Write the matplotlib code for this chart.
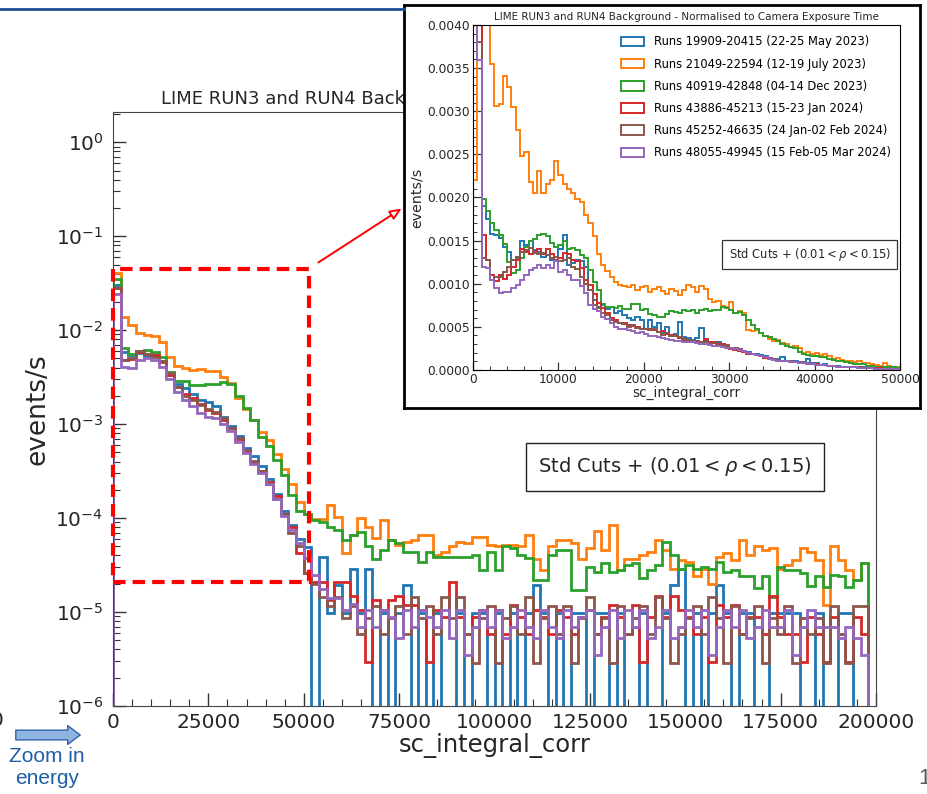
import numpy as np
import matplotlib
matplotlib.use("Agg")
import matplotlib.pyplot as plt
import matplotlib.ticker as ticker
from matplotlib.lines import Line2D
from matplotlib.patches import FancyArrowPatch, Rectangle

W, H = 928, 794

run_labels = [
    "Runs 19909-20415 (22-25 May 2023)",
    "Runs 21049-22594 (12-19 July 2023)",
    "Runs 40919-42848 (04-14 Dec 2023)",
    "Runs 43886-45213 (15-23 Jan 2024)",
    "Runs 45252-46635 (24 Jan-02 Feb 2024)",
    "Runs 48055-49945 (15 Feb-05 Mar 2024)",
]
run_colors = ["#1f77b4", "#ff7f0e", "#2ca02c", "#d62728", "#8c564b", "#9467bd"]

# full range: 2000-wide bins from 0 to 198000 (events/s)
main_edges = np.arange(0, 198001, 2000)

main_blue = [
    0.030, 0.0058, 0.0054, 0.0057, 0.0053, 0.0054, 0.0047, 0.0033, 0.0027, 0.0024,
    0.0021, 0.0018, 0.0017, 0.00155, 0.0012, 0.00095, 0.00075, 0.00056, 0.00046, 0.00036,
    0.00026, 0.00018, 0.00012, 8.5e-5, 6e-5,
    4.9e-5, 0, 3.9e-5, 9.7e-6, 1.95e-5, 9.7e-6, 2.9e-5, 9.7e-6, 2.9e-5, 0,
    9.7e-6, 0, 9.7e-6, 1.95e-5, 0, 9.7e-6, 0, 9.7e-6, 0, 0,
    9.7e-6, 0, 9.7e-6, 9.7e-6, 0, 9.7e-6, 0, 9.7e-6, 0, 9.7e-6,
    1.95e-5, 9.7e-6, 0, 9.7e-6, 0, 9.7e-6, 9.7e-6, 0, 9.7e-6, 9.7e-6,
    0, 9.7e-6, 0, 0, 9.7e-6, 0, 0, 9.7e-6, 1.95e-5, 2.9e-5,
    0, 9.7e-6, 0, 9.7e-6, 1.95e-5, 9.7e-6, 0, 9.7e-6, 9.7e-6, 0,
    0, 9.7e-6, 9.7e-6, 9.7e-6, 9.7e-6, 0, 0, 9.7e-6, 0, 0,
    9.7e-6, 9.7e-6, 0, 0,
]
main_orange = [
    0.041, 0.0137, 0.0113, 0.0094, 0.0088, 0.0086, 0.0075, 0.0052, 0.0042, 0.0040,
    0.0038, 0.0039, 0.0037, 0.0037, 0.0032, 0.00275, 0.0019, 0.00145, 0.00112, 0.00082,
    0.00067, 0.00048, 0.00033, 0.00023, 0.00015,
    1.1e-4, 9.7e-5, 9.7e-5, 1.37e-4, 1.03e-4, 4.2e-5, 6.6e-5, 1.0e-4, 8.1e-5, 6.1e-5,
    9.5e-5, 5.8e-5, 5.2e-5, 5.6e-5, 5.8e-5, 6.6e-5, 6.6e-5, 4.0e-5, 4.4e-5, 5.0e-5,
    5.6e-5, 5.4e-5, 6.3e-5, 6.3e-5, 5.2e-5, 5.0e-5, 5.2e-5, 5.2e-5, 5.0e-5, 6.6e-5,
    3.7e-5, 2.8e-5, 5.0e-5, 5.8e-5, 5.8e-5, 5.4e-5, 3.7e-5, 4.8e-5, 7.2e-5, 4.6e-5,
    8.4e-5, 2.8e-5, 3.7e-5, 3.7e-5, 4.0e-5, 4.4e-5, 5.8e-5, 4.6e-5, 2.9e-5, 3.6e-5,
    3.4e-5, 2.4e-5, 2.9e-5, 2.0e-5, 3.9e-5, 4.2e-5, 3.6e-5, 5.8e-5, 4.0e-5, 5.0e-5,
    4.6e-5, 4.8e-5, 2.9e-5, 3.2e-5, 3.6e-5, 4.8e-5, 4.4e-5, 3.6e-5, 1.2e-5, 5.0e-5,
    3.6e-5, 2.8e-5, 2.2e-5, 3.3e-5,
]
main_green = [
    0.035, 0.0064, 0.0056, 0.0060, 0.0062, 0.0058, 0.0052, 0.0036, 0.0029, 0.0029,
    0.0026, 0.0026, 0.0027, 0.0027, 0.0028, 0.0027, 0.0020, 0.0015, 0.0011, 0.00073,
    0.00059, 0.00042, 0.00029, 0.000175, 0.00012,
    1.1e-4, 9.5e-5, 9.0e-5, 8.1e-5, 7.4e-5, 5.8e-5, 6.6e-5, 7.1e-5, 5.0e-5, 3.7e-5,
    4.6e-5, 5.8e-5, 5.4e-5, 4.4e-5, 4.4e-5, 3.4e-5, 4.4e-5, 3.9e-5, 3.9e-5, 3.9e-5,
    3.9e-5, 3.9e-5, 4.0e-5, 2.8e-5, 4.4e-5, 2.8e-5, 5.0e-5, 4.8e-5, 4.0e-5, 3.8e-5,
    2.2e-5, 2.2e-5, 4.0e-5, 4.6e-5, 4.6e-5, 1.7e-5, 1.7e-5, 3.0e-5, 2.7e-5, 3.3e-5,
    2.7e-5, 2.8e-5, 3.2e-5, 3.3e-5, 2.3e-5, 2.8e-5, 3.2e-5, 5.6e-5, 4.0e-5, 2.9e-5,
    3.2e-5, 2.9e-5, 3.0e-5, 2.9e-5, 3.4e-5, 2.7e-5, 2.8e-5, 2.4e-5, 2.4e-5, 1.8e-5,
    2.4e-5, 1.45e-5, 3.0e-5, 2.8e-5, 2.8e-5, 2.6e-5, 1.9e-5, 2.4e-5, 1.85e-5, 2.5e-5,
    2.4e-5, 1.85e-5, 2.2e-5, 3.3e-5,
]
main_red = [
    0.028, 0.0048, 0.0049, 0.0058, 0.0056, 0.0054, 0.0046, 0.0033, 0.0025, 0.0021,
    0.0019, 0.00165, 0.0014, 0.0013, 0.0011, 0.0009, 0.0007, 0.0005, 0.0004, 0.00032,
    0.00024, 0.00017, 0.00011, 8e-5, 4.2e-5,
    2.6e-5, 2.07e-5, 2.07e-5, 1.33e-5, 2.07e-5, 2.07e-5, 1.48e-5, 1.04e-5, 2.96e-6, 1.33e-5,
    1.04e-5, 1.33e-5, 1.48e-5, 1.18e-5, 1.18e-5, 1.04e-5, 2.96e-6, 1.04e-5, 8.9e-6, 2.07e-5,
    8.9e-6, 5.9e-6, 8.9e-6, 1.04e-5, 5.9e-6, 1.04e-5, 5.9e-6, 1.18e-5, 8.9e-6, 5.9e-6,
    1.04e-5, 8.9e-6, 5.9e-6, 1.04e-5, 8.9e-6, 5.9e-6, 8.9e-6, 1.04e-5, 5.9e-6, 8.9e-6,
    1.18e-5, 8.9e-6, 5.9e-6, 1.18e-5, 2.96e-6, 8.9e-6, 1.48e-5, 8.9e-6, 1.48e-5, 1.04e-5,
    8.9e-6, 5.9e-6, 8.9e-6, 2.96e-6, 1.18e-5, 8.9e-6, 1.18e-5, 5.9e-6, 8.9e-6, 8.9e-6,
    5.9e-6, 1.48e-5, 8.9e-6, 5.9e-6, 5.9e-6, 2.96e-6, 8.9e-6, 5.9e-6, 2.96e-6, 8.9e-6,
    5.9e-6, 2.96e-6, 8.9e-6, 5.9e-6,
]
main_brown = [
    0.028, 0.0048, 0.0051, 0.0060, 0.0056, 0.0052, 0.0047, 0.0035, 0.0025, 0.0020,
    0.0018, 0.0016, 0.00145, 0.00135, 0.00115, 0.0009, 0.00072, 0.00053, 0.00041, 0.00032,
    0.00023, 0.00016, 0.00011, 7e-5, 5e-5,
    2.6e-5, 2.0e-5, 1.45e-5, 1.16e-5, 1.45e-5, 8.7e-6, 1.16e-5, 5.8e-6, 8.7e-6, 1.16e-5,
    5.8e-6, 8.7e-6, 1.16e-5, 5.8e-6, 1.45e-5, 8.7e-6, 1.16e-5, 5.8e-6, 1.45e-5, 8.7e-6,
    1.45e-5, 5.8e-6, 2.9e-6, 8.7e-6, 1.16e-5, 2.9e-6, 8.7e-6, 1.16e-5, 5.8e-6, 1.45e-5,
    2.9e-6, 8.7e-6, 1.16e-5, 5.8e-6, 1.16e-5, 2.9e-6, 8.7e-6, 1.45e-5, 5.8e-6, 8.7e-6,
    2.9e-6, 1.16e-5, 5.8e-6, 8.7e-6, 1.16e-5, 5.8e-6, 1.45e-5, 8.7e-6, 2.9e-6, 5.8e-6,
    8.7e-6, 1.16e-5, 5.8e-6, 1.45e-5, 8.7e-6, 2.9e-6, 1.16e-5, 5.8e-6, 8.7e-6, 1.16e-5,
    2.9e-6, 8.7e-6, 5.8e-6, 1.16e-5, 2.9e-6, 8.7e-6, 5.8e-6, 8.7e-6, 2.9e-6, 1.16e-5,
    5.8e-6, 2.9e-6, 1.16e-5, 1.16e-5,
]
main_purple = [
    0.0245, 0.0041, 0.0040, 0.0048, 0.0051, 0.00485, 0.0041, 0.0030, 0.0022, 0.0018,
    0.00155, 0.0013, 0.0012, 0.00115, 0.0010, 0.00085, 0.00065, 0.00049, 0.00038, 0.0003,
    0.00023, 0.00016, 0.000105, 7.5e-5, 5.4e-5,
    3.8e-5, 2.5e-5, 1.75e-5, 1.4e-5, 1.4e-5, 1.05e-5, 1.23e-5, 7e-6, 1.05e-5, 7e-6,
    1.05e-5, 8.75e-6, 5.25e-6, 1.05e-5, 7e-6, 1.05e-5, 8.75e-6, 7e-6, 1.05e-5, 5.25e-6,
    1.05e-5, 3.5e-6, 7e-6, 1.05e-5, 7e-6, 1.05e-5, 5.25e-6, 7e-6, 1.05e-5, 7e-6,
    5.25e-6, 1.05e-5, 7e-6, 5.25e-6, 1.05e-5, 7e-6, 8.75e-6, 1.05e-5, 3.5e-6, 7e-6,
    1.05e-5, 5.25e-6, 1.05e-5, 7e-6, 1.05e-5, 5.25e-6, 7e-6, 1.05e-5, 5.25e-6, 7e-6,
    1.05e-5, 7e-6, 1.05e-5, 3.5e-6, 7e-6, 1.05e-5, 7e-6, 1.05e-5, 5.25e-6, 7e-6,
    1.05e-5, 7e-6, 7e-6, 1.05e-5, 3.5e-6, 7e-6, 1.05e-5, 7e-6, 7e-6, 7e-6,
    5.25e-6, 7e-6, 5.25e-6, 3.5e-6,
]

# zoomed range: 500-wide bins from 0 to 50000, values in units of 1e-4 events/s
inset_edges = np.arange(0, 50001, 500)
INSET_UNIT = 1e-4

inset_blue = [
    180, 84, 19.0, 17.5, 15.8, 15.6, 15.3, 14.3, 13.7, 12.8,
    13.0, 14.9, 14.5, 14.9, 13.9, 13.7, 13.1, 13.3, 12.8, 12.6,
    14.0, 15.7, 12.2, 12.4, 12.8, 12.6, 12.0, 9.3, 8.1, 7.3,
    7.5, 7.1, 7.3, 6.6, 6.8, 6.4, 6.0, 5.8, 6.1, 5.8,
    4.8, 5.8, 5.0, 5.4, 4.3, 5.0, 3.9, 4.2, 5.6, 3.8,
    3.7, 3.5, 3.7, 4.9, 3.4, 3.3, 3.1, 3.2, 2.9, 2.8,
    2.6, 2.3, 2.4, 2.2, 2.1, 1.9, 1.8, 1.7, 1.6, 1.4,
    1.3, 1.3, 1.5, 1.1, 1.0, 1.0, 0.9, 0.9, 1.3, 0.8,
    0.8, 0.6, 0.7, 0.5, 0.5, 0.5, 0.4, 0.4, 0.3, 0.3,
    0.3, 0.3, 0.3, 0.2, 0.2, 0.15, 0.2, 0.15, 0.1, 0.15,
]
inset_orange = [
    22, 195, 120, 73, 35.5, 30.6, 30.8, 34.1, 32.8, 30.5,
    27.8, 24.8, 25.3, 21.8, 20.5, 23.1, 20.5, 21.6, 22.0, 24.2,
    22.6, 21.6, 21.0, 20.5, 19.8, 19.5, 18.0, 17.0, 15.5, 13.5,
    12.2, 11.5, 10.8, 10.2, 9.9, 9.7, 9.6, 9.8, 9.3, 9.6,
    9.7, 9.0, 9.4, 9.6, 9.2, 8.8, 9.4, 9.2, 8.7, 9.3,
    9.8, 9.6, 9.0, 9.7, 9.4, 8.2, 7.9, 8.0, 7.4, 7.3,
    7.9, 6.6, 6.8, 6.6, 4.6, 4.5, 4.6, 4.3, 3.9, 3.6,
    3.4, 3.5, 3.1, 3.0, 2.7, 2.8, 2.5, 2.0, 2.1, 1.9,
    2.0, 1.7, 1.8, 1.6, 1.3, 1.4, 1.2, 1.1, 1.0, 0.9,
    1.0, 0.8, 0.8, 0.7, 0.6, 0.5, 0.8, 0.5, 0.3, 0.4,
]
inset_green = [
    220, 92, 19.8, 18.4, 17.0, 16.2, 15.6, 14.6, 12.5, 11.3,
    11.6, 13.0, 14.3, 15.0, 15.2, 15.6, 15.8, 15.5, 14.7, 14.3,
    14.5, 14.9, 14.0, 14.1, 13.9, 13.3, 13.0, 11.6, 10.2, 9.3,
    7.7, 7.3, 7.3, 7.2, 7.4, 7.1, 7.1, 7.7, 7.6, 7.0,
    7.1, 6.5, 6.4, 6.2, 6.2, 6.5, 6.8, 6.7, 6.6, 7.0,
    6.8, 7.0, 6.6, 6.9, 7.1, 6.8, 7.0, 6.9, 7.3, 7.2,
    7.0, 6.6, 6.7, 6.4, 5.8, 5.2, 4.7, 4.3, 4.0, 3.8,
    3.6, 3.4, 3.0, 2.8, 2.7, 2.5, 2.1, 1.9, 1.7, 1.6,
    1.6, 1.5, 1.5, 1.3, 1.2, 1.1, 1.0, 0.9, 0.8, 0.7,
    0.7, 0.7, 0.5, 0.5, 0.4, 0.35, 0.35, 0.3, 0.3, 0.25,
]
inset_red = [
    190, 61.5, 15.7, 12.8, 11.0, 10.3, 11.0, 10.5, 11.0, 12.0,
    12.8, 14.0, 13.7, 13.4, 13.7, 14.0, 13.4, 14.0, 13.5, 12.7,
    13.0, 13.6, 13.4, 12.8, 12.6, 11.8, 10.4, 9.8, 8.8, 7.8,
    7.2, 6.6, 6.0, 5.8, 5.5, 5.4, 5.2, 5.1, 5.0, 4.8,
    4.7, 4.8, 4.6, 4.4, 4.5, 4.2, 4.1, 3.9, 3.7, 3.5,
    3.4, 3.3, 3.4, 3.2, 3.6, 3.2, 3.2, 3.0, 3.0, 2.8,
    2.4, 2.3, 2.2, 2.1, 1.9, 1.8, 1.7, 1.6, 1.4, 1.3,
    1.2, 1.1, 1.1, 1.0, 1.0, 0.9, 0.9, 0.8, 0.8, 0.7,
    0.7, 0.6, 0.6, 0.5, 0.5, 0.4, 0.4, 0.4, 0.3, 0.3,
    0.3, 0.2, 0.2, 0.2, 0.2, 0.2, 0.15, 0.1, 0.1, 0.07,
]
inset_brown = [
    216, 38, 13.0, 12.8, 10.4, 10.8, 10.8, 11.4, 12.0, 12.8,
    13.1, 13.7, 13.9, 14.1, 13.6, 13.5, 13.6, 13.3, 13.0, 13.1,
    12.6, 12.8, 13.0, 12.0, 11.7, 10.8, 10.0, 9.3, 7.5, 7.2,
    6.6, 6.4, 5.8, 5.6, 5.5, 5.3, 5.0, 5.2, 4.9, 4.8,
    4.8, 4.6, 4.7, 4.4, 4.1, 4.3, 4.0, 3.9, 3.8, 3.6,
    3.5, 3.3, 3.4, 3.2, 3.3, 3.0, 3.1, 2.9, 2.8, 2.9,
    2.6, 2.5, 2.4, 2.2, 2.0, 1.9, 1.7, 1.6, 1.5, 1.4,
    1.3, 1.1, 1.1, 1.0, 1.0, 0.9, 0.9, 0.8, 0.8, 0.7,
    0.6, 0.6, 0.6, 0.5, 0.5, 0.4, 0.4, 0.3, 0.3, 0.3,
    0.3, 0.2, 0.2, 0.2, 0.15, 0.15, 0.1, 0.1, 0.1, 0.08,
]
inset_purple = [
    185, 36, 11.9, 11.8, 10.4, 9.5, 8.9, 9.1, 9.1, 9.5,
    9.9, 10.4, 11.0, 11.6, 11.8, 12.2, 11.8, 12.2, 11.8, 12.6,
    11.4, 11.6, 11.0, 10.4, 10.4, 9.7, 8.9, 7.5, 7.1, 6.8,
    6.2, 5.9, 5.4, 5.0, 4.8, 4.7, 4.6, 4.5, 4.3, 4.4,
    4.2, 4.0, 3.9, 3.8, 3.7, 3.6, 3.5, 3.4, 3.4, 3.3,
    3.3, 3.2, 3.1, 3.0, 3.0, 2.9, 2.8, 2.8, 2.7, 2.6,
    2.5, 2.4, 2.3, 2.2, 2.0, 1.9, 1.7, 1.6, 1.5, 1.3,
    1.2, 1.1, 1.1, 1.0, 0.9, 0.9, 0.8, 0.8, 0.7, 0.7,
    0.6, 0.6, 0.6, 0.5, 0.5, 0.4, 0.4, 0.35, 0.3, 0.3,
    0.25, 0.25, 0.2, 0.2, 0.15, 0.15, 0.1, 0.1, 0.08, 0.08,
]

main_series = [main_blue, main_orange, main_green, main_red, main_brown, main_purple]
inset_series = [inset_blue, inset_orange, inset_green, inset_red, inset_brown, inset_purple]

TITLE = "LIME RUN3 and RUN4 Background - Normalised to Camera Exposure Time"
CUTS = r"Std Cuts + $(0.01 < \rho < 0.15)$"
TEXT = "#262626"


def px_rect(left, top, right, bottom):
    """Pixel box (from the top-left corner) -> figure fraction rect."""
    return [left / W, 1 - bottom / H, (right - left) / W, (bottom - top) / H]


def fx(x):
    return x / W


def fy(y):
    return 1 - y / H


fig = plt.figure(figsize=(W / 100, H / 100), dpi=100)
fig.patch.set_facecolor("white")

# ---- full-range log histogram ----
ax = fig.add_axes(px_rect(113, 112, 876, 706))
for vals, col, lab in zip(main_series, run_colors, run_labels):
    ax.hist(main_edges[:-1], bins=main_edges, weights=vals, histtype="step",
            color=col, linewidth=2.0, log=True, label=lab)
ax.set_xlim(0, 200000)
ax.set_ylim(1e-6, 2.1)
ax.xaxis.set_major_locator(ticker.MultipleLocator(25000))
ax.xaxis.set_minor_locator(ticker.MultipleLocator(5000))
ax.tick_params(which="both", direction="in", labelsize=14.5, labelcolor=TEXT,
               color="#333333")
ax.tick_params(which="major", length=9.5, width=1.0)
ax.tick_params(which="minor", length=5, width=0.8)
ax.tick_params(axis="y", which="both", pad=7)
ax.tick_params(axis="x", which="both", pad=5)
for sp in ax.spines.values():
    sp.set_color("#444444")
ax.set_xlabel("sc_integral_corr", fontsize=17.5, color=TEXT)
ax.set_ylabel("events/s", fontsize=19, color=TEXT)
ax.xaxis.set_label_coords(0.5, -0.045)
ax.yaxis.set_label_coords(-0.082, 0.5)
ax.set_title(TITLE, fontsize=13, color=TEXT)
ax.text(0.7366, 0.4024, CUTS, transform=ax.transAxes, ha="center", va="center",
        fontsize=14, color=TEXT,
        bbox=dict(boxstyle="square,pad=0.62", fc="white", ec="#222222", lw=1))

# dashed box marking the zoomed region
zoom_box = Rectangle((0, 2.1e-5), 51500, 0.0446 - 2.1e-5, transform=ax.transData,
                     fill=False, ec="red", lw=3, ls=(0, (3, 1.7)),
                     clip_on=False, zorder=10)
ax.add_patch(zoom_box)

# ---- zoomed linear histogram, pasted on top ----
frame = fig.add_axes(px_rect(404, 5, 920, 408))
frame.set_xticks([])
frame.set_yticks([])
frame.set_facecolor("white")
for sp in frame.spines.values():
    sp.set_linewidth(2)
    sp.set_color("black")

axi = fig.add_axes(px_rect(473, 25, 900, 370))
for vals, col, lab in zip(inset_series, run_colors, run_labels):
    axi.hist(inset_edges[:-1], bins=inset_edges,
             weights=np.asarray(vals) * INSET_UNIT, histtype="step",
             color=col, linewidth=1.4, label=lab)
axi.set_xlim(0, 50000)
axi.set_ylim(0, 0.004)
axi.xaxis.set_major_locator(ticker.MultipleLocator(10000))
axi.xaxis.set_minor_locator(ticker.MultipleLocator(2000))
axi.yaxis.set_major_locator(ticker.MultipleLocator(0.0005))
axi.yaxis.set_minor_locator(ticker.MultipleLocator(0.0001))
axi.yaxis.set_major_formatter(ticker.FormatStrFormatter("%.4f"))
axi.tick_params(which="both", direction="in", labelsize=8.8, labelcolor=TEXT,
                color="#333333", pad=2.5)
axi.tick_params(which="major", length=6, width=0.9)
axi.tick_params(which="minor", length=3, width=0.7)
axi.set_xlabel("sc_integral_corr", fontsize=9.8, color=TEXT)
axi.set_ylabel("events/s", fontsize=10.2, color=TEXT)
axi.xaxis.set_label_coords(0.5, -0.045)
axi.yaxis.set_label_coords(-0.115, 0.5)
axi.set_title(TITLE, fontsize=7.5, color=TEXT, pad=3.5)
axi.legend(loc="upper left", bbox_to_anchor=(0.33, 0.99), frameon=False,
           fontsize=8.3, handlelength=2.0, handleheight=0.9, handletextpad=0.9,
           labelspacing=0.8, borderaxespad=0.2)
axi.text(0.789, 0.335, CUTS, transform=axi.transAxes, ha="center", va="center",
         fontsize=8.3, color=TEXT,
         bbox=dict(boxstyle="square,pad=0.55", fc="white", ec="#333333", lw=0.9))

# red pointer from the dashed box to the zoomed panel
pointer = FancyArrowPatch((fx(316), fy(264)), (fx(404), fy(207)),
                          transform=fig.transFigure,
                          arrowstyle="-|>,head_length=0.7,head_width=0.3",
                          mutation_scale=10, ec="red", fc="white", lw=1.4)
fig.add_artist(pointer)

# slide decorations
fig.add_artist(Line2D([0, fx(404)], [fy(9), fy(9)], transform=fig.transFigure,
                      color="#1f4e96", lw=2))
zoom_arrow = FancyArrowPatch((fx(13), fy(735)), (fx(83), fy(735)),
                             transform=fig.transFigure,
                             arrowstyle="simple,head_length=0.9,head_width=1.35,tail_width=0.7",
                             mutation_scale=10, fc="#8fb4e0", ec="#2e63a8", lw=1)
fig.add_artist(zoom_arrow)
fig.text(fx(47), fy(756), "Zoom in", ha="center", va="center", fontsize=15,
         color="#1f5ea6", family="Liberation Sans")
fig.text(fx(47), fy(779), "energy", ha="center", va="center", fontsize=15,
         color="#1f5ea6", family="Liberation Sans")
fig.text(fx(4), fy(720), "0", ha="right", va="center", fontsize=14.5, color=TEXT)
fig.text(fx(918), fy(778), "1", ha="left", va="center", fontsize=16,
         color="#595959", family="Liberation Sans")

fig.savefig("out.png", dpi=100, facecolor="white")
